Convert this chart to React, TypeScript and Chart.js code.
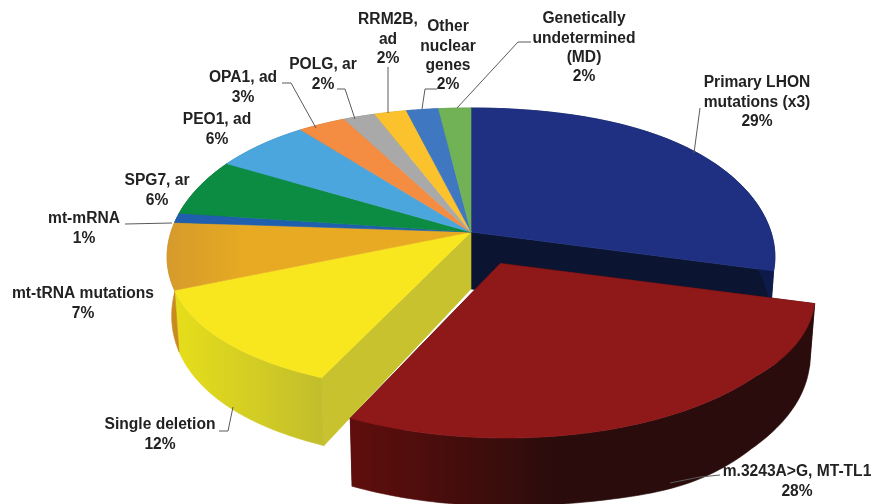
import React, { useEffect, useRef } from "react";
import { Chart, registerables } from "chart.js";

Chart.register(...registerables);

const categories: string[][] = [
  ["Primary LHON", "mutations (x3)"],
  ["m.3243A>G, MT-TL1"],
  ["Single deletion"],
  ["mt-tRNA mutations"],
  ["mt-mRNA"],
  ["SPG7, ar"],
  ["PEO1, ad"],
  ["OPA1, ad"],
  ["POLG, ar"],
  ["RRM2B,", "ad"],
  ["Other", "nuclear", "genes"],
  ["Genetically", "undetermined", "(MD)"],
];
const shares = [29, 28, 12, 7, 1, 6, 6, 3, 2, 2, 2, 2];
const explode = [0, 36, 0, 0, 0, 0, 0, 0, 0, 0, 0, 0];

const topColours = ["#1f3082", "#8f1819", "#f8e71e", "#e7aa22", "#1f5fae", "#0c8b42", "#4ba6dd", "#f48c42", "#a9a9a9", "#fcc22e", "#3f78c1", "#70b255"];
const wallLeft = ["#0d1a4a", "#600e0c", "#e6de1a", "#c98a1e", "#164a88", "#0a6a32", "#3a80ab", "#bd6c32", "#828282", "#c29522", "#305d95", "#568a42"];
const wallRight = ["#0d1a4a", "#2a0c0c", "#c2be2c", "#c98a1e", "#164a88", "#0a6a32", "#3a80ab", "#bd6c32", "#828282", "#c29522", "#305d95", "#568a42"];
const cutColours = ["#0b1430", "#3a0c0c", "#c8c22e", "#c98a1e", "#164a88", "#0a6a32", "#3a80ab", "#bd6c32", "#828282", "#c29522", "#305d95", "#568a42"];

// label layout: centre x and first-line y of each text block
const labelX = [757, 797, 160, 83, 84, 157, 217, 243, 323, 388, 448, 584];
const labelY = [83, 472, 425, 294, 219, 181, 120, 78, 65, 20, 27, 19];
const leaders: number[][][] = [
  [[694, 153], [700, 108]],
  [[670, 483], [700, 477], [720, 475]],
  [[233, 407], [228, 431], [219, 431]],
  [],
  [[172, 223], [125, 224]],
  [],
  [],
  [[316, 128], [291, 83], [282, 83]],
  [[355, 119], [345, 89], [337, 89]],
  [[388, 113], [388, 67]],
  [[422, 109], [425, 89], [437, 89]],
  [[457, 108], [518, 42], [531, 42]],
];

const LINE = 19.3;
const FONT = "bold 15.6px 'Liberation Sans', Arial, sans-serif";

function project(cx: number, cy: number, U: number, V: number) {
  const s = 300 / (1 - 0.16 * V);
  const extra = V > 0.9 ? 39 * (V - 0.9) : 0;
  const g = 153.07 + 18.4 * V - 10.66 * V * V + extra;
  return { x: cx + U * s, y: cy + V * g };
}
function projectLow(cx: number, cy: number, U: number, V: number) {
  const p = project(cx, cy, U, V);
  const bump = 7 * Math.exp(-Math.pow((U - 0.65) / 0.25, 2));
  return { x: cx + (p.x - cx) * 0.985, y: p.y + Math.min(57 + 12 * V, 68) + bump };
}

const pie3d = {
  id: "pie3d",
  beforeDatasetsDraw(chart: any) {
    const ctx: CanvasRenderingContext2D = chart.ctx;
    const arcs = chart.getDatasetMeta(0).data as any[];
    const slices = arcs.map((a: any, i: number) => {
      const R = a.outerRadius;
      const off = (a.options.offset || 0) / R;
      const mid = (a.startAngle + a.endAngle) / 2;
      return { i, cx: a.x, cy: a.y, a0: a.startAngle, a1: a.endAngle, ou: Math.cos(mid) * off, ov: Math.sin(mid) * off, off };
    });

    const rim = (s: any) => {
      const n = Math.max(2, Math.ceil((s.a1 - s.a0) / 0.02));
      const pts: [number, number][] = [];
      for (let k = 0; k <= n; k++) {
        const t = s.a0 + ((s.a1 - s.a0) * k) / n;
        pts.push([s.ou + Math.cos(t), s.ov + Math.sin(t)]);
      }
      return pts;
    };

    const poly = (pts: { x: number; y: number }[], fill: any) => {
      ctx.beginPath();
      pts.forEach((p, k) => (k ? ctx.lineTo(p.x, p.y) : ctx.moveTo(p.x, p.y)));
      ctx.closePath();
      ctx.fillStyle = fill;
      ctx.fill();
      ctx.strokeStyle = fill;
      ctx.lineWidth = 0.6;
      ctx.stroke();
    };

    // a radial cut face only shows where the neighbouring slice has been pulled away
    const n = slices.length;
    const radialWalls = (s: any) => {
      const prev = slices[(s.i + n - 1) % n];
      const next = slices[(s.i + 1) % n];
      const faces: number[] = [];
      if (s.off !== 0 || prev.off !== 0) faces.push(s.a0);
      if (s.off !== 0 || next.off !== 0) faces.push(s.a1);
      faces.forEach((t: number) => {
        const U = s.ou + Math.cos(t);
        const V = s.ov + Math.sin(t);
        poly(
          [
            project(s.cx, s.cy, s.ou, s.ov),
            project(s.cx, s.cy, U, V),
            projectLow(s.cx, s.cy, U, V),
            projectLow(s.cx, s.cy, s.ou, s.ov),
          ],
          cutColours[s.i],
        );
      });
    };
    const outerWall = (s: any) => {
      const pts = rim(s);
      const up = pts.map(([U, V]) => project(s.cx, s.cy, U, V));
      const low = pts.map(([U, V]) => projectLow(s.cx, s.cy, U, V)).reverse();
      const xs = up.map((p) => p.x);
      const g = ctx.createLinearGradient(Math.min(...xs), 0, Math.max(...xs), 0);
      g.addColorStop(0, wallLeft[s.i]);
      g.addColorStop(s.i === 1 ? 0.45 : 1, wallRight[s.i]);
      g.addColorStop(1, wallRight[s.i]);
      poly([...up, ...low], g);
    };
    const top = (s: any) => {
      const pts = rim(s).map(([U, V]) => project(s.cx, s.cy, U, V));
      let fill: any = topColours[s.i];
      if (s.i === 3) {
        fill = ctx.createLinearGradient(165, 0, 245, 0);
        fill.addColorStop(0, "#d59a2c");
        fill.addColorStop(1, topColours[s.i]);
      }
      poly([project(s.cx, s.cy, s.ou, s.ov), ...pts], fill);
    };

    const fixed = slices.filter((s: any) => s.off === 0);
    const moved = slices.filter((s: any) => s.off !== 0);
    [fixed, moved].forEach((group) => {
      group.forEach(radialWalls);
      group.forEach(outerWall);
      group.forEach(top);
    });

    // leader lines
    ctx.strokeStyle = "#5a5a5a";
    ctx.lineWidth = 1;
    leaders.forEach((line) => {
      if (!line.length) return;
      ctx.beginPath();
      line.forEach(([x, y], k) => (k ? ctx.lineTo(x, y) : ctx.moveTo(x, y)));
      ctx.stroke();
    });

    // labels
    ctx.fillStyle = "#222222";
    ctx.font = FONT;
    ctx.textAlign = "center";
    ctx.textBaseline = "middle";
    categories.forEach((lines, i) => {
      [...lines, `${shares[i]}%`].forEach((t, k) => {
        ctx.fillText(t, labelX[i], labelY[i] + k * LINE);
      });
    });
    return false;
  },
};

export default function App() {
  const ref = useRef<HTMLCanvasElement>(null);
  useEffect(() => {
    const chart = new Chart(ref.current!, {
      type: "pie",
      data: {
        labels: categories.map((c) => c.join(" ")),
        datasets: [{ data: shares, backgroundColor: topColours, offset: explode, borderWidth: 0 }],
      },
      options: {
        animation: false,
        responsive: false,
        layout: { padding: { left: 291, right: 221, top: 52, bottom: 92 } },
        plugins: { legend: { display: false }, tooltip: { enabled: false } },
      },
      plugins: [pie3d],
    } as any);
    return () => chart.destroy();
  }, []);
  return (
    <div style={{ position: "fixed", left: 0, top: 0, width: 872, height: 504, background: "#fff", overflow: "hidden" }}>
      <canvas ref={ref} width={872} height={504} style={{ display: "block" }} />
    </div>
  );
}
